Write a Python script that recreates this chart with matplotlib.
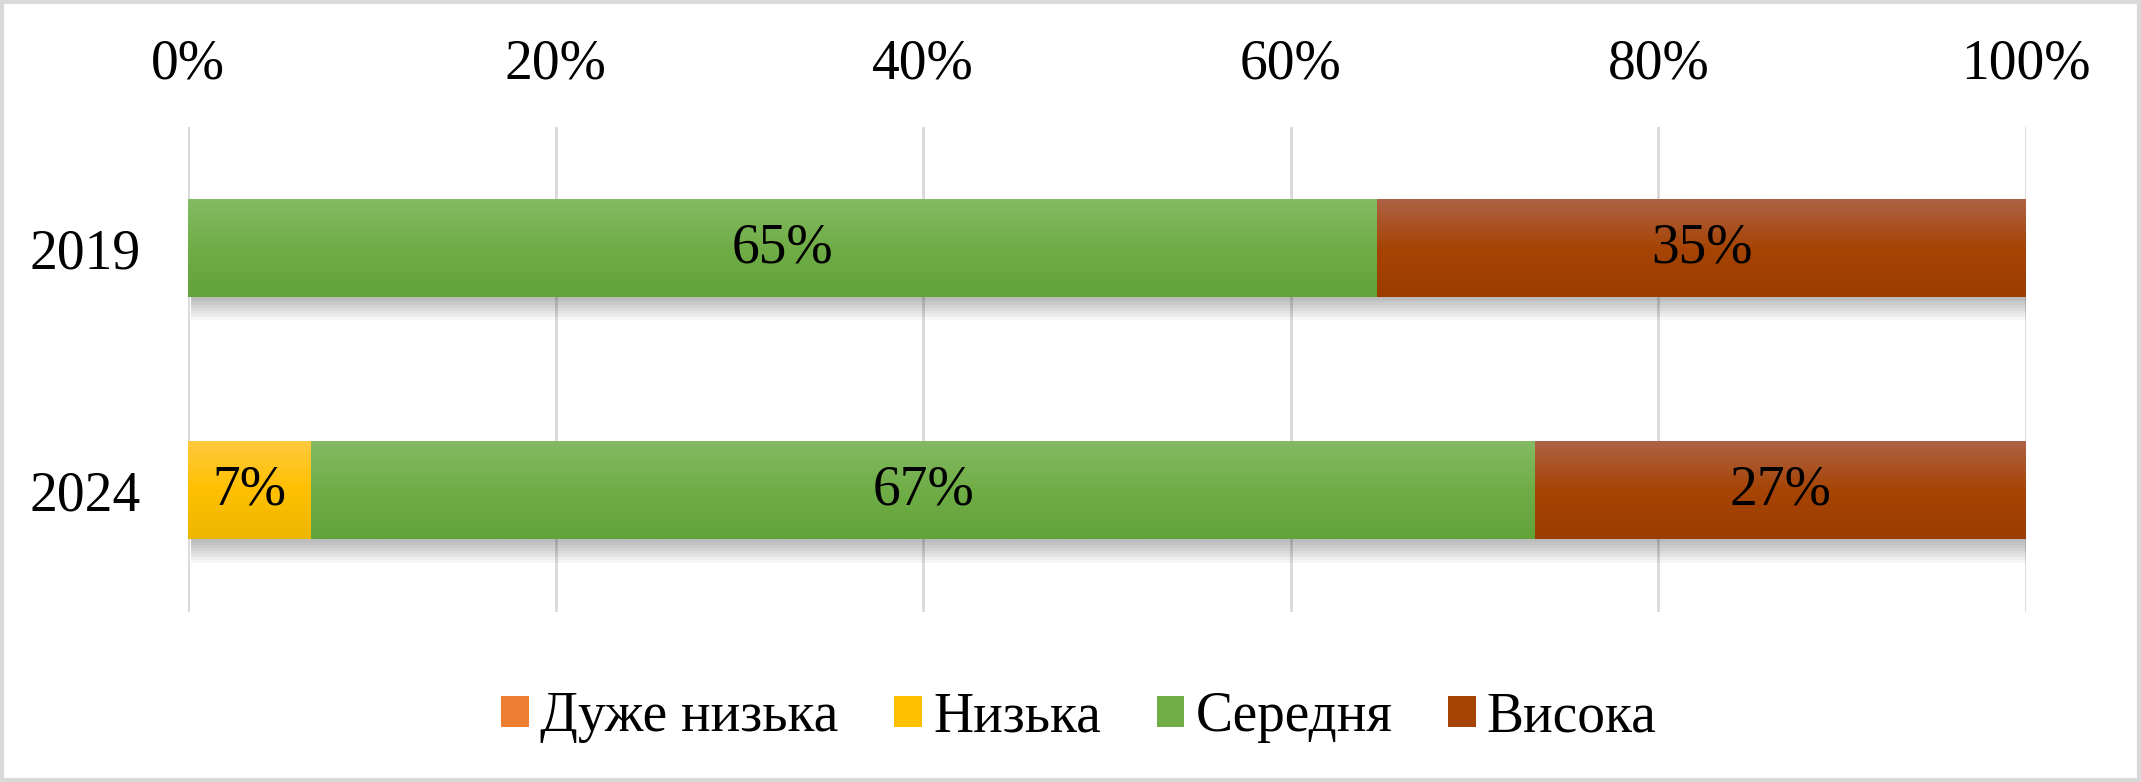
import matplotlib.pyplot as plt
import numpy as np
from matplotlib.colors import LinearSegmentedColormap
from matplotlib.patches import Patch, Rectangle

plt.rcParams['font.family'] = ['Liberation Serif', 'DejaVu Serif']

# data (shares, %)
years = ['2019', '2024']
series = ['Дуже низька', 'Низька', 'Середня', 'Висока']
very_low = [0.0, 0.0]
low = [0.0, 6.7]
medium = [64.7, 66.6]
high = [35.3, 26.7]
ticks = [0, 20, 40, 60, 80, 100]

# (top, middle, bottom) of each gradient
grads = {
    'Дуже низька': ('#F4904D', '#ED7D31', '#E86E1F'),
    'Низька': ('#FFC93C', '#FFC000', '#EDB700'),
    'Середня': ('#84BA62', '#70AD47', '#62A33A'),
    'Висока': ('#AE6245', '#A64405', '#9C3D00'),
}

fig = plt.figure(figsize=(21.41, 7.82), dpi=100)
ax = fig.add_axes([0.0878, 0.217, 0.8585, 0.621])

bar_h = 0.4
values = [very_low, low, medium, high]
for i, yr in enumerate(years):
    left = 0.0
    for name, vals in zip(series, values):
        w = vals[i]
        if w <= 0:
            continue
        top, mid, bot = grads[name]
        cmap = LinearSegmentedColormap.from_list(name, [top, mid, bot])
        grad = np.linspace(0, 1, 64).reshape(-1, 1)
        # shadow below the bar
        for k in range(8):
            ax.add_patch(Rectangle((left + 0.15, i - bar_h / 2),
                                   w, bar_h + 0.012 * (k + 1),
                                   facecolor='black', alpha=0.035,
                                   edgecolor='none', zorder=2))
        ax.imshow(grad, cmap=cmap, aspect='auto', zorder=3,
                  extent=(left, left + w, i + bar_h / 2, i - bar_h / 2))
        lab = str(int(round(w))) + '%'
        ax.text(left + w / 2, i, lab, ha='center', va='center',
                fontsize=40, color='black', zorder=4)
        left += w

ax.set_xlim(0, 100)
ax.set_ylim(1.5, -0.5)
ax.set_yticks(range(len(years)))
ax.set_yticklabels(years)
ax.set_xticks(ticks)
ax.set_xticklabels([str(t) + '%' for t in ticks])
ax.xaxis.tick_top()
ax.tick_params(axis='both', length=0, labelsize=40, colors='black')
ax.tick_params(axis='x', pad=26)
ax.tick_params(axis='y', pad=34)
ax.grid(axis='x', color='#D9D9D9', linewidth=2, zorder=0)
ax.set_axisbelow(True)
for s in ax.spines.values():
    s.set_visible(False)

handles = [Patch(facecolor=grads[n][1], edgecolor='none', label=n) for n in series]
fig.legend(handles=handles, loc='center', bbox_to_anchor=(0.504, 0.083),
           ncol=4, frameon=False, fontsize=40, handlelength=0.5,
           handleheight=0.5, handletextpad=0.2, columnspacing=1.0)

fig.patches.append(Rectangle((0.001, 0.002), 0.998, 0.996, transform=fig.transFigure,
                             fill=False, edgecolor='#D9D9D9', linewidth=3))

plt.savefig('out.png', dpi=100)
